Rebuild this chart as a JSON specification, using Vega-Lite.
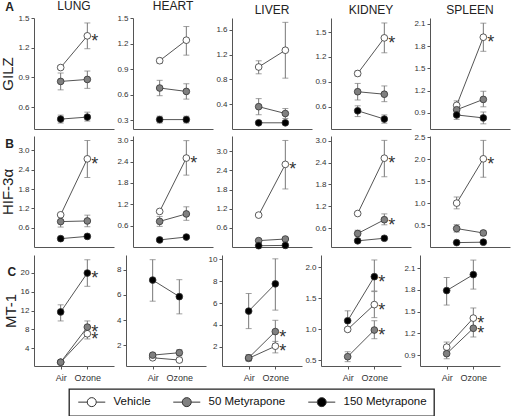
{
"$schema": "https://vega.github.io/schema/vega-lite/v6.json",
"background": "white",
"padding": {"left": 0, "right": 2, "top": 0, "bottom": 0},
"datasets": {"d": [
{"gene":"GILZ","tissue":"LUNG","exposure":"Air","series":"Vehicle","mean":1.00,"lo":0.98,"hi":1.02,"sig":false},
{"gene":"GILZ","tissue":"LUNG","exposure":"Ozone","series":"Vehicle","mean":1.32,"lo":1.19,"hi":1.45,"sig":true},
{"gene":"GILZ","tissue":"LUNG","exposure":"Air","series":"50 Metyrapone","mean":0.86,"lo":0.775,"hi":0.945,"sig":false},
{"gene":"GILZ","tissue":"LUNG","exposure":"Ozone","series":"50 Metyrapone","mean":0.88,"lo":0.79,"hi":0.965,"sig":false},
{"gene":"GILZ","tissue":"LUNG","exposure":"Air","series":"150 Metyrapone","mean":0.48,"lo":0.44,"hi":0.52,"sig":false},
{"gene":"GILZ","tissue":"LUNG","exposure":"Ozone","series":"150 Metyrapone","mean":0.50,"lo":0.46,"hi":0.55,"sig":false},
{"gene":"GILZ","tissue":"HEART","exposure":"Air","series":"Vehicle","mean":1.00,"lo":0.97,"hi":1.03,"sig":false},
{"gene":"GILZ","tissue":"HEART","exposure":"Ozone","series":"Vehicle","mean":1.24,"lo":1.065,"hi":1.40,"sig":false},
{"gene":"GILZ","tissue":"HEART","exposure":"Air","series":"50 Metyrapone","mean":0.68,"lo":0.59,"hi":0.77,"sig":false},
{"gene":"GILZ","tissue":"HEART","exposure":"Ozone","series":"50 Metyrapone","mean":0.64,"lo":0.55,"hi":0.73,"sig":false},
{"gene":"GILZ","tissue":"HEART","exposure":"Air","series":"150 Metyrapone","mean":0.31,"lo":0.27,"hi":0.35,"sig":false},
{"gene":"GILZ","tissue":"HEART","exposure":"Ozone","series":"150 Metyrapone","mean":0.31,"lo":0.27,"hi":0.35,"sig":false},
{"gene":"GILZ","tissue":"LIVER","exposure":"Air","series":"Vehicle","mean":1.00,"lo":0.89,"hi":1.10,"sig":false},
{"gene":"GILZ","tissue":"LIVER","exposure":"Ozone","series":"Vehicle","mean":1.27,"lo":0.82,"hi":1.72,"sig":false},
{"gene":"GILZ","tissue":"LIVER","exposure":"Air","series":"50 Metyrapone","mean":0.36,"lo":0.23,"hi":0.49,"sig":false},
{"gene":"GILZ","tissue":"LIVER","exposure":"Ozone","series":"50 Metyrapone","mean":0.25,"lo":0.17,"hi":0.33,"sig":false},
{"gene":"GILZ","tissue":"LIVER","exposure":"Air","series":"150 Metyrapone","mean":0.10,"lo":0.08,"hi":0.12,"sig":false},
{"gene":"GILZ","tissue":"LIVER","exposure":"Ozone","series":"150 Metyrapone","mean":0.10,"lo":0.08,"hi":0.12,"sig":false},
{"gene":"GILZ","tissue":"KIDNEY","exposure":"Air","series":"Vehicle","mean":1.00,"lo":0.97,"hi":1.03,"sig":false},
{"gene":"GILZ","tissue":"KIDNEY","exposure":"Ozone","series":"Vehicle","mean":1.43,"lo":1.25,"hi":1.61,"sig":true},
{"gene":"GILZ","tissue":"KIDNEY","exposure":"Air","series":"50 Metyrapone","mean":0.78,"lo":0.68,"hi":0.88,"sig":false},
{"gene":"GILZ","tissue":"KIDNEY","exposure":"Ozone","series":"50 Metyrapone","mean":0.75,"lo":0.66,"hi":0.85,"sig":false},
{"gene":"GILZ","tissue":"KIDNEY","exposure":"Air","series":"150 Metyrapone","mean":0.55,"lo":0.48,"hi":0.61,"sig":false},
{"gene":"GILZ","tissue":"KIDNEY","exposure":"Ozone","series":"150 Metyrapone","mean":0.45,"lo":0.40,"hi":0.50,"sig":false},
{"gene":"GILZ","tissue":"SPLEEN","exposure":"Air","series":"Vehicle","mean":1.00,"lo":0.93,"hi":1.06,"sig":false},
{"gene":"GILZ","tissue":"SPLEEN","exposure":"Ozone","series":"Vehicle","mean":1.92,"lo":1.73,"hi":2.11,"sig":true},
{"gene":"GILZ","tissue":"SPLEEN","exposure":"Air","series":"50 Metyrapone","mean":0.94,"lo":0.88,"hi":1.00,"sig":false},
{"gene":"GILZ","tissue":"SPLEEN","exposure":"Ozone","series":"50 Metyrapone","mean":1.08,"lo":0.98,"hi":1.19,"sig":false},
{"gene":"GILZ","tissue":"SPLEEN","exposure":"Air","series":"150 Metyrapone","mean":0.87,"lo":0.81,"hi":0.93,"sig":false},
{"gene":"GILZ","tissue":"SPLEEN","exposure":"Ozone","series":"150 Metyrapone","mean":0.83,"lo":0.75,"hi":0.91,"sig":false},
{"gene":"HIF","tissue":"LUNG","exposure":"Air","series":"Vehicle","mean":1.00,"lo":0.98,"hi":1.02,"sig":false},
{"gene":"HIF","tissue":"LUNG","exposure":"Ozone","series":"Vehicle","mean":2.74,"lo":2.16,"hi":3.31,"sig":true},
{"gene":"HIF","tissue":"LUNG","exposure":"Air","series":"50 Metyrapone","mean":0.79,"lo":0.62,"hi":0.95,"sig":false},
{"gene":"HIF","tissue":"LUNG","exposure":"Ozone","series":"50 Metyrapone","mean":0.81,"lo":0.63,"hi":0.99,"sig":false},
{"gene":"HIF","tissue":"LUNG","exposure":"Air","series":"150 Metyrapone","mean":0.26,"lo":0.23,"hi":0.29,"sig":false},
{"gene":"HIF","tissue":"LUNG","exposure":"Ozone","series":"150 Metyrapone","mean":0.33,"lo":0.30,"hi":0.36,"sig":false},
{"gene":"HIF","tissue":"HEART","exposure":"Air","series":"Vehicle","mean":1.00,"lo":0.97,"hi":1.03,"sig":false},
{"gene":"HIF","tissue":"HEART","exposure":"Ozone","series":"Vehicle","mean":2.50,"lo":2.02,"hi":2.99,"sig":true},
{"gene":"HIF","tissue":"HEART","exposure":"Air","series":"50 Metyrapone","mean":0.72,"lo":0.58,"hi":0.86,"sig":false},
{"gene":"HIF","tissue":"HEART","exposure":"Ozone","series":"50 Metyrapone","mean":0.93,"lo":0.75,"hi":1.13,"sig":false},
{"gene":"HIF","tissue":"HEART","exposure":"Air","series":"150 Metyrapone","mean":0.20,"lo":0.17,"hi":0.23,"sig":false},
{"gene":"HIF","tissue":"HEART","exposure":"Ozone","series":"150 Metyrapone","mean":0.28,"lo":0.25,"hi":0.31,"sig":false},
{"gene":"HIF","tissue":"LIVER","exposure":"Air","series":"Vehicle","mean":1.00,"lo":0.96,"hi":1.04,"sig":false},
{"gene":"HIF","tissue":"LIVER","exposure":"Ozone","series":"Vehicle","mean":2.59,"lo":1.82,"hi":3.34,"sig":true},
{"gene":"HIF","tissue":"LIVER","exposure":"Air","series":"50 Metyrapone","mean":0.20,"lo":0.17,"hi":0.23,"sig":false},
{"gene":"HIF","tissue":"LIVER","exposure":"Ozone","series":"50 Metyrapone","mean":0.25,"lo":0.22,"hi":0.28,"sig":false},
{"gene":"HIF","tissue":"LIVER","exposure":"Air","series":"150 Metyrapone","mean":0.04,"lo":0.03,"hi":0.05,"sig":false},
{"gene":"HIF","tissue":"LIVER","exposure":"Ozone","series":"150 Metyrapone","mean":0.05,"lo":0.04,"hi":0.06,"sig":false},
{"gene":"HIF","tissue":"KIDNEY","exposure":"Air","series":"Vehicle","mean":1.00,"lo":0.98,"hi":1.02,"sig":false},
{"gene":"HIF","tissue":"KIDNEY","exposure":"Ozone","series":"Vehicle","mean":2.52,"lo":2.01,"hi":3.01,"sig":true},
{"gene":"HIF","tissue":"KIDNEY","exposure":"Air","series":"50 Metyrapone","mean":0.45,"lo":0.38,"hi":0.54,"sig":false},
{"gene":"HIF","tissue":"KIDNEY","exposure":"Ozone","series":"50 Metyrapone","mean":0.83,"lo":0.69,"hi":0.99,"sig":true},
{"gene":"HIF","tissue":"KIDNEY","exposure":"Air","series":"150 Metyrapone","mean":0.25,"lo":0.22,"hi":0.28,"sig":false},
{"gene":"HIF","tissue":"KIDNEY","exposure":"Ozone","series":"150 Metyrapone","mean":0.32,"lo":0.28,"hi":0.36,"sig":false},
{"gene":"HIF","tissue":"SPLEEN","exposure":"Air","series":"Vehicle","mean":1.00,"lo":0.87,"hi":1.14,"sig":false},
{"gene":"HIF","tissue":"SPLEEN","exposure":"Ozone","series":"Vehicle","mean":2.01,"lo":1.59,"hi":2.43,"sig":true},
{"gene":"HIF","tissue":"SPLEEN","exposure":"Air","series":"50 Metyrapone","mean":0.42,"lo":0.34,"hi":0.51,"sig":false},
{"gene":"HIF","tissue":"SPLEEN","exposure":"Ozone","series":"50 Metyrapone","mean":0.32,"lo":0.26,"hi":0.37,"sig":false},
{"gene":"HIF","tissue":"SPLEEN","exposure":"Air","series":"150 Metyrapone","mean":0.10,"lo":0.09,"hi":0.11,"sig":false},
{"gene":"HIF","tissue":"SPLEEN","exposure":"Ozone","series":"150 Metyrapone","mean":0.11,"lo":0.10,"hi":0.12,"sig":false},
{"gene":"MT1","tissue":"LUNG","exposure":"Air","series":"Vehicle","mean":1.1,"lo":0.9,"hi":1.3,"sig":false},
{"gene":"MT1","tissue":"LUNG","exposure":"Ozone","series":"Vehicle","mean":7.1,"lo":6.0,"hi":8.35,"sig":true},
{"gene":"MT1","tissue":"LUNG","exposure":"Air","series":"50 Metyrapone","mean":1.1,"lo":0.9,"hi":1.3,"sig":false},
{"gene":"MT1","tissue":"LUNG","exposure":"Ozone","series":"50 Metyrapone","mean":8.5,"lo":7.5,"hi":9.8,"sig":true},
{"gene":"MT1","tissue":"LUNG","exposure":"Air","series":"150 Metyrapone","mean":11.7,"lo":9.8,"hi":13.2,"sig":false},
{"gene":"MT1","tissue":"LUNG","exposure":"Ozone","series":"150 Metyrapone","mean":19.9,"lo":17.1,"hi":22.7,"sig":true},
{"gene":"MT1","tissue":"HEART","exposure":"Air","series":"Vehicle","mean":1.03,"lo":0.95,"hi":1.1,"sig":false},
{"gene":"MT1","tissue":"HEART","exposure":"Ozone","series":"Vehicle","mean":0.85,"lo":0.7,"hi":1.0,"sig":false},
{"gene":"MT1","tissue":"HEART","exposure":"Air","series":"50 Metyrapone","mean":1.24,"lo":1.1,"hi":1.38,"sig":false},
{"gene":"MT1","tissue":"HEART","exposure":"Ozone","series":"50 Metyrapone","mean":1.43,"lo":1.18,"hi":1.67,"sig":false},
{"gene":"MT1","tissue":"HEART","exposure":"Air","series":"150 Metyrapone","mean":7.17,"lo":5.5,"hi":8.78,"sig":false},
{"gene":"MT1","tissue":"HEART","exposure":"Ozone","series":"150 Metyrapone","mean":5.86,"lo":4.5,"hi":7.2,"sig":false},
{"gene":"MT1","tissue":"LIVER","exposure":"Air","series":"Vehicle","mean":0.95,"lo":0.75,"hi":1.15,"sig":false},
{"gene":"MT1","tissue":"LIVER","exposure":"Ozone","series":"Vehicle","mean":2.06,"lo":1.45,"hi":2.5,"sig":true},
{"gene":"MT1","tissue":"LIVER","exposure":"Air","series":"50 Metyrapone","mean":1.0,"lo":0.7,"hi":1.3,"sig":false},
{"gene":"MT1","tissue":"LIVER","exposure":"Ozone","series":"50 Metyrapone","mean":3.4,"lo":2.3,"hi":4.43,"sig":true},
{"gene":"MT1","tissue":"LIVER","exposure":"Air","series":"150 Metyrapone","mean":5.27,"lo":3.67,"hi":6.88,"sig":false},
{"gene":"MT1","tissue":"LIVER","exposure":"Ozone","series":"150 Metyrapone","mean":7.76,"lo":5.36,"hi":10.05,"sig":false},
{"gene":"MT1","tissue":"KIDNEY","exposure":"Air","series":"Vehicle","mean":1.00,"lo":0.97,"hi":1.03,"sig":false},
{"gene":"MT1","tissue":"KIDNEY","exposure":"Ozone","series":"Vehicle","mean":1.40,"lo":1.19,"hi":1.61,"sig":true},
{"gene":"MT1","tissue":"KIDNEY","exposure":"Air","series":"50 Metyrapone","mean":0.56,"lo":0.48,"hi":0.64,"sig":false},
{"gene":"MT1","tissue":"KIDNEY","exposure":"Ozone","series":"50 Metyrapone","mean":0.99,"lo":0.85,"hi":1.14,"sig":true},
{"gene":"MT1","tissue":"KIDNEY","exposure":"Air","series":"150 Metyrapone","mean":1.14,"lo":0.97,"hi":1.30,"sig":false},
{"gene":"MT1","tissue":"KIDNEY","exposure":"Ozone","series":"150 Metyrapone","mean":1.85,"lo":1.62,"hi":2.12,"sig":true},
{"gene":"MT1","tissue":"SPLEEN","exposure":"Air","series":"Vehicle","mean":1.01,"lo":0.95,"hi":1.08,"sig":false},
{"gene":"MT1","tissue":"SPLEEN","exposure":"Ozone","series":"Vehicle","mean":1.41,"lo":1.28,"hi":1.55,"sig":true},
{"gene":"MT1","tissue":"SPLEEN","exposure":"Air","series":"50 Metyrapone","mean":0.92,"lo":0.85,"hi":0.98,"sig":false},
{"gene":"MT1","tissue":"SPLEEN","exposure":"Ozone","series":"50 Metyrapone","mean":1.27,"lo":1.15,"hi":1.39,"sig":true},
{"gene":"MT1","tissue":"SPLEEN","exposure":"Air","series":"150 Metyrapone","mean":1.79,"lo":1.59,"hi":1.97,"sig":false},
{"gene":"MT1","tissue":"SPLEEN","exposure":"Ozone","series":"150 Metyrapone","mean":2.01,"lo":1.81,"hi":2.21,"sig":false}
]},
"spacing": 4,
"vconcat": [
{"title": {"text":"A","orient":"left","anchor":"end","angle":0,"align":"left","baseline":"top","fontWeight":"bold","fontSize":12,"offset":-13,"frame":"bounds","dy":2},
 "spacing": 2,
 "hconcat": [
  {"width":80,"height":111,"title":"LUNG","data":{"name":"d"},"transform":[{"filter":"datum.gene==='GILZ' && datum.tissue==='LUNG'"}],
   "encoding":{"x":{"field":"exposure","type":"nominal","title":null,"scale":{"type":"point","domain":["Air","Ozone"],"padding":1},"axis":{"labels":false,"ticks":false}},
    "y":{"field":"mean","type":"quantitative","scale":{"domain":[0.38,1.5],"nice":false,"zero":false},"axis":{"values":[0.6,0.9,1.2,1.5],"format":".1f","title":"GILZ"}}},
   "layer":[
    {"mark":{"type":"rule","color":"#777","strokeWidth":1},"encoding":{"y":{"field":"lo","type":"quantitative"},"y2":{"field":"hi"}}},
    {"mark":{"type":"tick","color":"#777","size":6,"thickness":1},"encoding":{"y":{"field":"lo","type":"quantitative"}}},
    {"mark":{"type":"tick","color":"#777","size":6,"thickness":1},"encoding":{"y":{"field":"hi","type":"quantitative"}}},
    {"mark":{"type":"line","color":"#555","strokeWidth":1},"encoding":{"detail":{"field":"series","type":"nominal"}}},
    {"mark":{"type":"circle","size":45,"stroke":"#333","strokeWidth":0.8,"opacity":1},"encoding":{"fill":{"field":"series","type":"nominal","title":null,"scale":{"domain":["Vehicle","50 Metyrapone","150 Metyrapone"],"range":["#ffffff","#808080","#000000"]}}}},
    {"transform":[{"filter":"datum.sig"}],"mark":{"type":"text","text":"*","align":"left","dx":4,"dy":6,"fontSize":18,"color":"#333"},"encoding":{}}
   ]},
  {"width":80,"height":111,"title":"HEART","data":{"name":"d"},"transform":[{"filter":"datum.gene==='GILZ' && datum.tissue==='HEART'"}],
   "encoding":{"x":{"field":"exposure","type":"nominal","title":null,"scale":{"type":"point","domain":["Air","Ozone"],"padding":1},"axis":{"labels":false,"ticks":false}},
    "y":{"field":"mean","type":"quantitative","scale":{"domain":[0.2,1.5],"nice":false,"zero":false},"axis":{"values":[0.3,0.6,0.9,1.2,1.5],"format":".1f","title":null}}},
   "layer":[
    {"mark":{"type":"rule","color":"#777","strokeWidth":1},"encoding":{"y":{"field":"lo","type":"quantitative"},"y2":{"field":"hi"}}},
    {"mark":{"type":"tick","color":"#777","size":6,"thickness":1},"encoding":{"y":{"field":"lo","type":"quantitative"}}},
    {"mark":{"type":"tick","color":"#777","size":6,"thickness":1},"encoding":{"y":{"field":"hi","type":"quantitative"}}},
    {"mark":{"type":"line","color":"#555","strokeWidth":1},"encoding":{"detail":{"field":"series","type":"nominal"}}},
    {"mark":{"type":"circle","size":45,"stroke":"#333","strokeWidth":0.8,"opacity":1},"encoding":{"fill":{"field":"series","type":"nominal","title":null,"scale":{"domain":["Vehicle","50 Metyrapone","150 Metyrapone"],"range":["#ffffff","#808080","#000000"]}}}},
    {"transform":[{"filter":"datum.sig"}],"mark":{"type":"text","text":"*","align":"left","dx":4,"dy":6,"fontSize":18,"color":"#333"},"encoding":{}}
   ]},
  {"width":80,"height":111,"title":"LIVER","data":{"name":"d"},"transform":[{"filter":"datum.gene==='GILZ' && datum.tissue==='LIVER'"}],
   "encoding":{"x":{"field":"exposure","type":"nominal","title":null,"scale":{"type":"point","domain":["Air","Ozone"],"padding":1},"axis":{"labels":false,"ticks":false}},
    "y":{"field":"mean","type":"quantitative","scale":{"domain":[0,1.79],"nice":false,"zero":false},"axis":{"values":[0.4,0.8,1.2,1.6],"format":".1f","title":null}}},
   "layer":[
    {"mark":{"type":"rule","color":"#777","strokeWidth":1},"encoding":{"y":{"field":"lo","type":"quantitative"},"y2":{"field":"hi"}}},
    {"mark":{"type":"tick","color":"#777","size":6,"thickness":1},"encoding":{"y":{"field":"lo","type":"quantitative"}}},
    {"mark":{"type":"tick","color":"#777","size":6,"thickness":1},"encoding":{"y":{"field":"hi","type":"quantitative"}}},
    {"mark":{"type":"line","color":"#555","strokeWidth":1},"encoding":{"detail":{"field":"series","type":"nominal"}}},
    {"mark":{"type":"circle","size":45,"stroke":"#333","strokeWidth":0.8,"opacity":1},"encoding":{"fill":{"field":"series","type":"nominal","title":null,"scale":{"domain":["Vehicle","50 Metyrapone","150 Metyrapone"],"range":["#ffffff","#808080","#000000"]}}}},
    {"transform":[{"filter":"datum.sig"}],"mark":{"type":"text","text":"*","align":"left","dx":4,"dy":6,"fontSize":18,"color":"#333"},"encoding":{}}
   ]},
  {"width":80,"height":111,"title":"KIDNEY","data":{"name":"d"},"transform":[{"filter":"datum.gene==='GILZ' && datum.tissue==='KIDNEY'"}],
   "encoding":{"x":{"field":"exposure","type":"nominal","title":null,"scale":{"type":"point","domain":["Air","Ozone"],"padding":1},"axis":{"labels":false,"ticks":false}},
    "y":{"field":"mean","type":"quantitative","scale":{"domain":[0.33,1.67],"nice":false,"zero":false},"axis":{"values":[0.6,0.9,1.2,1.5],"format":".1f","title":null}}},
   "layer":[
    {"mark":{"type":"rule","color":"#777","strokeWidth":1},"encoding":{"y":{"field":"lo","type":"quantitative"},"y2":{"field":"hi"}}},
    {"mark":{"type":"tick","color":"#777","size":6,"thickness":1},"encoding":{"y":{"field":"lo","type":"quantitative"}}},
    {"mark":{"type":"tick","color":"#777","size":6,"thickness":1},"encoding":{"y":{"field":"hi","type":"quantitative"}}},
    {"mark":{"type":"line","color":"#555","strokeWidth":1},"encoding":{"detail":{"field":"series","type":"nominal"}}},
    {"mark":{"type":"circle","size":45,"stroke":"#333","strokeWidth":0.8,"opacity":1},"encoding":{"fill":{"field":"series","type":"nominal","title":null,"scale":{"domain":["Vehicle","50 Metyrapone","150 Metyrapone"],"range":["#ffffff","#808080","#000000"]}}}},
    {"transform":[{"filter":"datum.sig"}],"mark":{"type":"text","text":"*","align":"left","dx":4,"dy":6,"fontSize":18,"color":"#333"},"encoding":{}}
   ]},
  {"width":80,"height":111,"title":"SPLEEN","data":{"name":"d"},"transform":[{"filter":"datum.gene==='GILZ' && datum.tissue==='SPLEEN'"}],
   "encoding":{"x":{"field":"exposure","type":"nominal","title":null,"scale":{"type":"point","domain":["Air","Ozone"],"padding":1},"axis":{"labels":false,"ticks":false}},
    "y":{"field":"mean","type":"quantitative","scale":{"domain":[0.68,2.18],"nice":false,"zero":false},"axis":{"values":[0.9,1.2,1.5,1.8,2.1],"format":".1f","title":null}}},
   "layer":[
    {"mark":{"type":"rule","color":"#777","strokeWidth":1},"encoding":{"y":{"field":"lo","type":"quantitative"},"y2":{"field":"hi"}}},
    {"mark":{"type":"tick","color":"#777","size":6,"thickness":1},"encoding":{"y":{"field":"lo","type":"quantitative"}}},
    {"mark":{"type":"tick","color":"#777","size":6,"thickness":1},"encoding":{"y":{"field":"hi","type":"quantitative"}}},
    {"mark":{"type":"line","color":"#555","strokeWidth":1},"encoding":{"detail":{"field":"series","type":"nominal"}}},
    {"mark":{"type":"circle","size":45,"stroke":"#333","strokeWidth":0.8,"opacity":1},"encoding":{"fill":{"field":"series","type":"nominal","title":null,"scale":{"domain":["Vehicle","50 Metyrapone","150 Metyrapone"],"range":["#ffffff","#808080","#000000"]}}}},
    {"transform":[{"filter":"datum.sig"}],"mark":{"type":"text","text":"*","align":"left","dx":4,"dy":6,"fontSize":18,"color":"#333"},"encoding":{}}
   ]}
 ]},
{"title": {"text":"B","orient":"left","anchor":"end","angle":0,"align":"left","baseline":"top","fontWeight":"bold","fontSize":12,"offset":-13,"frame":"bounds","dy":6},
 "spacing": 2,
 "hconcat": [
  {"width":80,"height":111,"data":{"name":"d"},"transform":[{"filter":"datum.gene==='HIF' && datum.tissue==='LUNG'"}],
   "encoding":{"x":{"field":"exposure","type":"nominal","title":null,"scale":{"type":"point","domain":["Air","Ozone"],"padding":1},"axis":{"labels":false,"ticks":false}},
    "y":{"field":"mean","type":"quantitative","scale":{"domain":[0,3.45],"nice":false,"zero":false},"axis":{"values":[0.6,1.2,1.8,2.4,3.0],"format":".1f","title":"HIF-3α"}}},
   "layer":[
    {"mark":{"type":"rule","color":"#777","strokeWidth":1},"encoding":{"y":{"field":"lo","type":"quantitative"},"y2":{"field":"hi"}}},
    {"mark":{"type":"tick","color":"#777","size":6,"thickness":1},"encoding":{"y":{"field":"lo","type":"quantitative"}}},
    {"mark":{"type":"tick","color":"#777","size":6,"thickness":1},"encoding":{"y":{"field":"hi","type":"quantitative"}}},
    {"mark":{"type":"line","color":"#555","strokeWidth":1},"encoding":{"detail":{"field":"series","type":"nominal"}}},
    {"mark":{"type":"circle","size":45,"stroke":"#333","strokeWidth":0.8,"opacity":1},"encoding":{"fill":{"field":"series","type":"nominal","title":null,"scale":{"domain":["Vehicle","50 Metyrapone","150 Metyrapone"],"range":["#ffffff","#808080","#000000"]}}}},
    {"transform":[{"filter":"datum.sig"}],"mark":{"type":"text","text":"*","align":"left","dx":4,"dy":6,"fontSize":18,"color":"#333"},"encoding":{}}
   ]},
  {"width":80,"height":111,"data":{"name":"d"},"transform":[{"filter":"datum.gene==='HIF' && datum.tissue==='HEART'"}],
   "encoding":{"x":{"field":"exposure","type":"nominal","title":null,"scale":{"type":"point","domain":["Air","Ozone"],"padding":1},"axis":{"labels":false,"ticks":false}},
    "y":{"field":"mean","type":"quantitative","scale":{"domain":[0,3.12],"nice":false,"zero":false},"axis":{"values":[0.6,1.2,1.8,2.4,3.0],"format":".1f","title":null}}},
   "layer":[
    {"mark":{"type":"rule","color":"#777","strokeWidth":1},"encoding":{"y":{"field":"lo","type":"quantitative"},"y2":{"field":"hi"}}},
    {"mark":{"type":"tick","color":"#777","size":6,"thickness":1},"encoding":{"y":{"field":"lo","type":"quantitative"}}},
    {"mark":{"type":"tick","color":"#777","size":6,"thickness":1},"encoding":{"y":{"field":"hi","type":"quantitative"}}},
    {"mark":{"type":"line","color":"#555","strokeWidth":1},"encoding":{"detail":{"field":"series","type":"nominal"}}},
    {"mark":{"type":"circle","size":45,"stroke":"#333","strokeWidth":0.8,"opacity":1},"encoding":{"fill":{"field":"series","type":"nominal","title":null,"scale":{"domain":["Vehicle","50 Metyrapone","150 Metyrapone"],"range":["#ffffff","#808080","#000000"]}}}},
    {"transform":[{"filter":"datum.sig"}],"mark":{"type":"text","text":"*","align":"left","dx":4,"dy":6,"fontSize":18,"color":"#333"},"encoding":{}}
   ]},
  {"width":80,"height":111,"data":{"name":"d"},"transform":[{"filter":"datum.gene==='HIF' && datum.tissue==='LIVER'"}],
   "encoding":{"x":{"field":"exposure","type":"nominal","title":null,"scale":{"type":"point","domain":["Air","Ozone"],"padding":1},"axis":{"labels":false,"ticks":false}},
    "y":{"field":"mean","type":"quantitative","scale":{"domain":[0,3.48],"nice":false,"zero":false},"axis":{"values":[0.6,1.2,1.8,2.4,3.0],"format":".1f","title":null}}},
   "layer":[
    {"mark":{"type":"rule","color":"#777","strokeWidth":1},"encoding":{"y":{"field":"lo","type":"quantitative"},"y2":{"field":"hi"}}},
    {"mark":{"type":"tick","color":"#777","size":6,"thickness":1},"encoding":{"y":{"field":"lo","type":"quantitative"}}},
    {"mark":{"type":"tick","color":"#777","size":6,"thickness":1},"encoding":{"y":{"field":"hi","type":"quantitative"}}},
    {"mark":{"type":"line","color":"#555","strokeWidth":1},"encoding":{"detail":{"field":"series","type":"nominal"}}},
    {"mark":{"type":"circle","size":45,"stroke":"#333","strokeWidth":0.8,"opacity":1},"encoding":{"fill":{"field":"series","type":"nominal","title":null,"scale":{"domain":["Vehicle","50 Metyrapone","150 Metyrapone"],"range":["#ffffff","#808080","#000000"]}}}},
    {"transform":[{"filter":"datum.sig"}],"mark":{"type":"text","text":"*","align":"left","dx":4,"dy":6,"fontSize":18,"color":"#333"},"encoding":{}}
   ]},
  {"width":80,"height":111,"data":{"name":"d"},"transform":[{"filter":"datum.gene==='HIF' && datum.tissue==='KIDNEY'"}],
   "encoding":{"x":{"field":"exposure","type":"nominal","title":null,"scale":{"type":"point","domain":["Air","Ozone"],"padding":1},"axis":{"labels":false,"ticks":false}},
    "y":{"field":"mean","type":"quantitative","scale":{"domain":[0.08,3.13],"nice":false,"zero":false},"axis":{"values":[0.6,1.2,1.8,2.4,3.0],"format":".1f","title":null}}},
   "layer":[
    {"mark":{"type":"rule","color":"#777","strokeWidth":1},"encoding":{"y":{"field":"lo","type":"quantitative"},"y2":{"field":"hi"}}},
    {"mark":{"type":"tick","color":"#777","size":6,"thickness":1},"encoding":{"y":{"field":"lo","type":"quantitative"}}},
    {"mark":{"type":"tick","color":"#777","size":6,"thickness":1},"encoding":{"y":{"field":"hi","type":"quantitative"}}},
    {"mark":{"type":"line","color":"#555","strokeWidth":1},"encoding":{"detail":{"field":"series","type":"nominal"}}},
    {"mark":{"type":"circle","size":45,"stroke":"#333","strokeWidth":0.8,"opacity":1},"encoding":{"fill":{"field":"series","type":"nominal","title":null,"scale":{"domain":["Vehicle","50 Metyrapone","150 Metyrapone"],"range":["#ffffff","#808080","#000000"]}}}},
    {"transform":[{"filter":"datum.sig"}],"mark":{"type":"text","text":"*","align":"left","dx":4,"dy":6,"fontSize":18,"color":"#333"},"encoding":{}}
   ]},
  {"width":80,"height":111,"data":{"name":"d"},"transform":[{"filter":"datum.gene==='HIF' && datum.tissue==='SPLEEN'"}],
   "encoding":{"x":{"field":"exposure","type":"nominal","title":null,"scale":{"type":"point","domain":["Air","Ozone"],"padding":1},"axis":{"labels":false,"ticks":false}},
    "y":{"field":"mean","type":"quantitative","scale":{"domain":[0,2.53],"nice":false,"zero":false},"axis":{"values":[0.5,1.0,1.5,2.0,2.5],"format":".1f","title":null}}},
   "layer":[
    {"mark":{"type":"rule","color":"#777","strokeWidth":1},"encoding":{"y":{"field":"lo","type":"quantitative"},"y2":{"field":"hi"}}},
    {"mark":{"type":"tick","color":"#777","size":6,"thickness":1},"encoding":{"y":{"field":"lo","type":"quantitative"}}},
    {"mark":{"type":"tick","color":"#777","size":6,"thickness":1},"encoding":{"y":{"field":"hi","type":"quantitative"}}},
    {"mark":{"type":"line","color":"#555","strokeWidth":1},"encoding":{"detail":{"field":"series","type":"nominal"}}},
    {"mark":{"type":"circle","size":45,"stroke":"#333","strokeWidth":0.8,"opacity":1},"encoding":{"fill":{"field":"series","type":"nominal","title":null,"scale":{"domain":["Vehicle","50 Metyrapone","150 Metyrapone"],"range":["#ffffff","#808080","#000000"]}}}},
    {"transform":[{"filter":"datum.sig"}],"mark":{"type":"text","text":"*","align":"left","dx":4,"dy":6,"fontSize":18,"color":"#333"},"encoding":{}}
   ]}
 ]},
{"title": {"text":"C","orient":"left","anchor":"end","angle":0,"align":"left","baseline":"top","fontWeight":"bold","fontSize":12,"offset":-13,"frame":"bounds","dy":12},
 "spacing": 2,
 "hconcat": [
  {"width":80,"height":111,"data":{"name":"d"},"transform":[{"filter":"datum.gene==='MT1' && datum.tissue==='LUNG'"}],
   "encoding":{"x":{"field":"exposure","type":"nominal","title":null,"scale":{"type":"point","domain":["Air","Ozone"],"padding":1}},
    "y":{"field":"mean","type":"quantitative","scale":{"domain":[0.3,23.7],"nice":false,"zero":false},"axis":{"values":[4,8,12,16,20],"format":"d","title":"MT-1"}}},
   "layer":[
    {"mark":{"type":"rule","color":"#777","strokeWidth":1},"encoding":{"y":{"field":"lo","type":"quantitative"},"y2":{"field":"hi"}}},
    {"mark":{"type":"tick","color":"#777","size":6,"thickness":1},"encoding":{"y":{"field":"lo","type":"quantitative"}}},
    {"mark":{"type":"tick","color":"#777","size":6,"thickness":1},"encoding":{"y":{"field":"hi","type":"quantitative"}}},
    {"mark":{"type":"line","color":"#555","strokeWidth":1},"encoding":{"detail":{"field":"series","type":"nominal"}}},
    {"mark":{"type":"circle","size":45,"stroke":"#333","strokeWidth":0.8,"opacity":1},"encoding":{"fill":{"field":"series","type":"nominal","title":null,"scale":{"domain":["Vehicle","50 Metyrapone","150 Metyrapone"],"range":["#ffffff","#808080","#000000"]}}}},
    {"transform":[{"filter":"datum.sig"}],"mark":{"type":"text","text":"*","align":"left","dx":4,"dy":6,"fontSize":18,"color":"#333"},"encoding":{}}
   ]},
  {"width":80,"height":111,"data":{"name":"d"},"transform":[{"filter":"datum.gene==='MT1' && datum.tissue==='HEART'"}],
   "encoding":{"x":{"field":"exposure","type":"nominal","title":null,"scale":{"type":"point","domain":["Air","Ozone"],"padding":1}},
    "y":{"field":"mean","type":"quantitative","scale":{"domain":[0.38,9.15],"nice":false,"zero":false},"axis":{"values":[2,4,6,8],"format":"d","title":null}}},
   "layer":[
    {"mark":{"type":"rule","color":"#777","strokeWidth":1},"encoding":{"y":{"field":"lo","type":"quantitative"},"y2":{"field":"hi"}}},
    {"mark":{"type":"tick","color":"#777","size":6,"thickness":1},"encoding":{"y":{"field":"lo","type":"quantitative"}}},
    {"mark":{"type":"tick","color":"#777","size":6,"thickness":1},"encoding":{"y":{"field":"hi","type":"quantitative"}}},
    {"mark":{"type":"line","color":"#555","strokeWidth":1},"encoding":{"detail":{"field":"series","type":"nominal"}}},
    {"mark":{"type":"circle","size":45,"stroke":"#333","strokeWidth":0.8,"opacity":1},"encoding":{"fill":{"field":"series","type":"nominal","title":null,"scale":{"domain":["Vehicle","50 Metyrapone","150 Metyrapone"],"range":["#ffffff","#808080","#000000"]}}}},
    {"transform":[{"filter":"datum.sig"}],"mark":{"type":"text","text":"*","align":"left","dx":4,"dy":6,"fontSize":18,"color":"#333"},"encoding":{}}
   ]},
  {"width":80,"height":111,"data":{"name":"d"},"transform":[{"filter":"datum.gene==='MT1' && datum.tissue==='LIVER'"}],
   "encoding":{"x":{"field":"exposure","type":"nominal","title":null,"scale":{"type":"point","domain":["Air","Ozone"],"padding":1}},
    "y":{"field":"mean","type":"quantitative","scale":{"domain":[0.25,10.4],"nice":false,"zero":false},"axis":{"values":[2,4,6,8,10],"format":"d","title":null}}},
   "layer":[
    {"mark":{"type":"rule","color":"#777","strokeWidth":1},"encoding":{"y":{"field":"lo","type":"quantitative"},"y2":{"field":"hi"}}},
    {"mark":{"type":"tick","color":"#777","size":6,"thickness":1},"encoding":{"y":{"field":"lo","type":"quantitative"}}},
    {"mark":{"type":"tick","color":"#777","size":6,"thickness":1},"encoding":{"y":{"field":"hi","type":"quantitative"}}},
    {"mark":{"type":"line","color":"#555","strokeWidth":1},"encoding":{"detail":{"field":"series","type":"nominal"}}},
    {"mark":{"type":"circle","size":45,"stroke":"#333","strokeWidth":0.8,"opacity":1},"encoding":{"fill":{"field":"series","type":"nominal","title":null,"scale":{"domain":["Vehicle","50 Metyrapone","150 Metyrapone"],"range":["#ffffff","#808080","#000000"]}}}},
    {"transform":[{"filter":"datum.sig"}],"mark":{"type":"text","text":"*","align":"left","dx":4,"dy":6,"fontSize":18,"color":"#333"},"encoding":{}}
   ]},
  {"width":80,"height":111,"data":{"name":"d"},"transform":[{"filter":"datum.gene==='MT1' && datum.tissue==='KIDNEY'"}],
   "encoding":{"x":{"field":"exposure","type":"nominal","title":null,"scale":{"type":"point","domain":["Air","Ozone"],"padding":1}},
    "y":{"field":"mean","type":"quantitative","scale":{"domain":[0.41,2.2],"nice":false,"zero":false},"axis":{"values":[0.5,1.0,1.5,2.0],"format":".1f","title":null}}},
   "layer":[
    {"mark":{"type":"rule","color":"#777","strokeWidth":1},"encoding":{"y":{"field":"lo","type":"quantitative"},"y2":{"field":"hi"}}},
    {"mark":{"type":"tick","color":"#777","size":6,"thickness":1},"encoding":{"y":{"field":"lo","type":"quantitative"}}},
    {"mark":{"type":"tick","color":"#777","size":6,"thickness":1},"encoding":{"y":{"field":"hi","type":"quantitative"}}},
    {"mark":{"type":"line","color":"#555","strokeWidth":1},"encoding":{"detail":{"field":"series","type":"nominal"}}},
    {"mark":{"type":"circle","size":45,"stroke":"#333","strokeWidth":0.8,"opacity":1},"encoding":{"fill":{"field":"series","type":"nominal","title":null,"scale":{"domain":["Vehicle","50 Metyrapone","150 Metyrapone"],"range":["#ffffff","#808080","#000000"]}}}},
    {"transform":[{"filter":"datum.sig"}],"mark":{"type":"text","text":"*","align":"left","dx":4,"dy":6,"fontSize":18,"color":"#333"},"encoding":{}}
   ]},
  {"width":80,"height":111,"data":{"name":"d"},"transform":[{"filter":"datum.gene==='MT1' && datum.tissue==='SPLEEN'"}],
   "encoding":{"x":{"field":"exposure","type":"nominal","title":null,"scale":{"type":"point","domain":["Air","Ozone"],"padding":1}},
    "y":{"field":"mean","type":"quantitative","scale":{"domain":[0.75,2.28],"nice":false,"zero":false},"axis":{"values":[0.9,1.2,1.5,1.8,2.1],"format":".1f","title":null}}},
   "layer":[
    {"mark":{"type":"rule","color":"#777","strokeWidth":1},"encoding":{"y":{"field":"lo","type":"quantitative"},"y2":{"field":"hi"}}},
    {"mark":{"type":"tick","color":"#777","size":6,"thickness":1},"encoding":{"y":{"field":"lo","type":"quantitative"}}},
    {"mark":{"type":"tick","color":"#777","size":6,"thickness":1},"encoding":{"y":{"field":"hi","type":"quantitative"}}},
    {"mark":{"type":"line","color":"#555","strokeWidth":1},"encoding":{"detail":{"field":"series","type":"nominal"}}},
    {"mark":{"type":"circle","size":45,"stroke":"#333","strokeWidth":0.8,"opacity":1},"encoding":{"fill":{"field":"series","type":"nominal","title":null,"scale":{"domain":["Vehicle","50 Metyrapone","150 Metyrapone"],"range":["#ffffff","#808080","#000000"]}}}},
    {"transform":[{"filter":"datum.sig"}],"mark":{"type":"text","text":"*","align":"left","dx":4,"dy":6,"fontSize":18,"color":"#333"},"encoding":{}}
   ]}
 ]}
],
"config": {
 "view": {"stroke": null},
 "font": "Liberation Sans",
 "axis": {"grid": false, "domainColor": "#555", "tickColor": "#555", "labelColor": "#333", "labelFontSize": 8, "tickSize": 3, "labelPadding": 2, "titleFontWeight": "normal", "titleFontSize": 15, "titleColor": "#222", "titlePadding": 2},
 "axisX": {"labelAngle": 0, "labelFontSize": 9, "labelPadding": 4},
 "title": {"fontSize": 12, "fontWeight": "normal", "color": "#222", "offset": 1, "frame": "group"},
 "legend": {"orient": "none", "legendX": 35, "legendY": 371, "direction": "horizontal", "strokeColor": "#222", "strokeWidth": 1.3, "padding": 7, "symbolType": "M-3,0H-1M1,0H3M-1,0A1,1,0,1,1,1,0A1,1,0,1,1,-1,0Z", "symbolSize": 81, "symbolStrokeColor": "#333", "symbolStrokeWidth": 1, "labelFontSize": 11.5, "labelColor": "#111", "columnPadding": 20, "labelOffset": 16, "symbolOffset": 10}
}
}
